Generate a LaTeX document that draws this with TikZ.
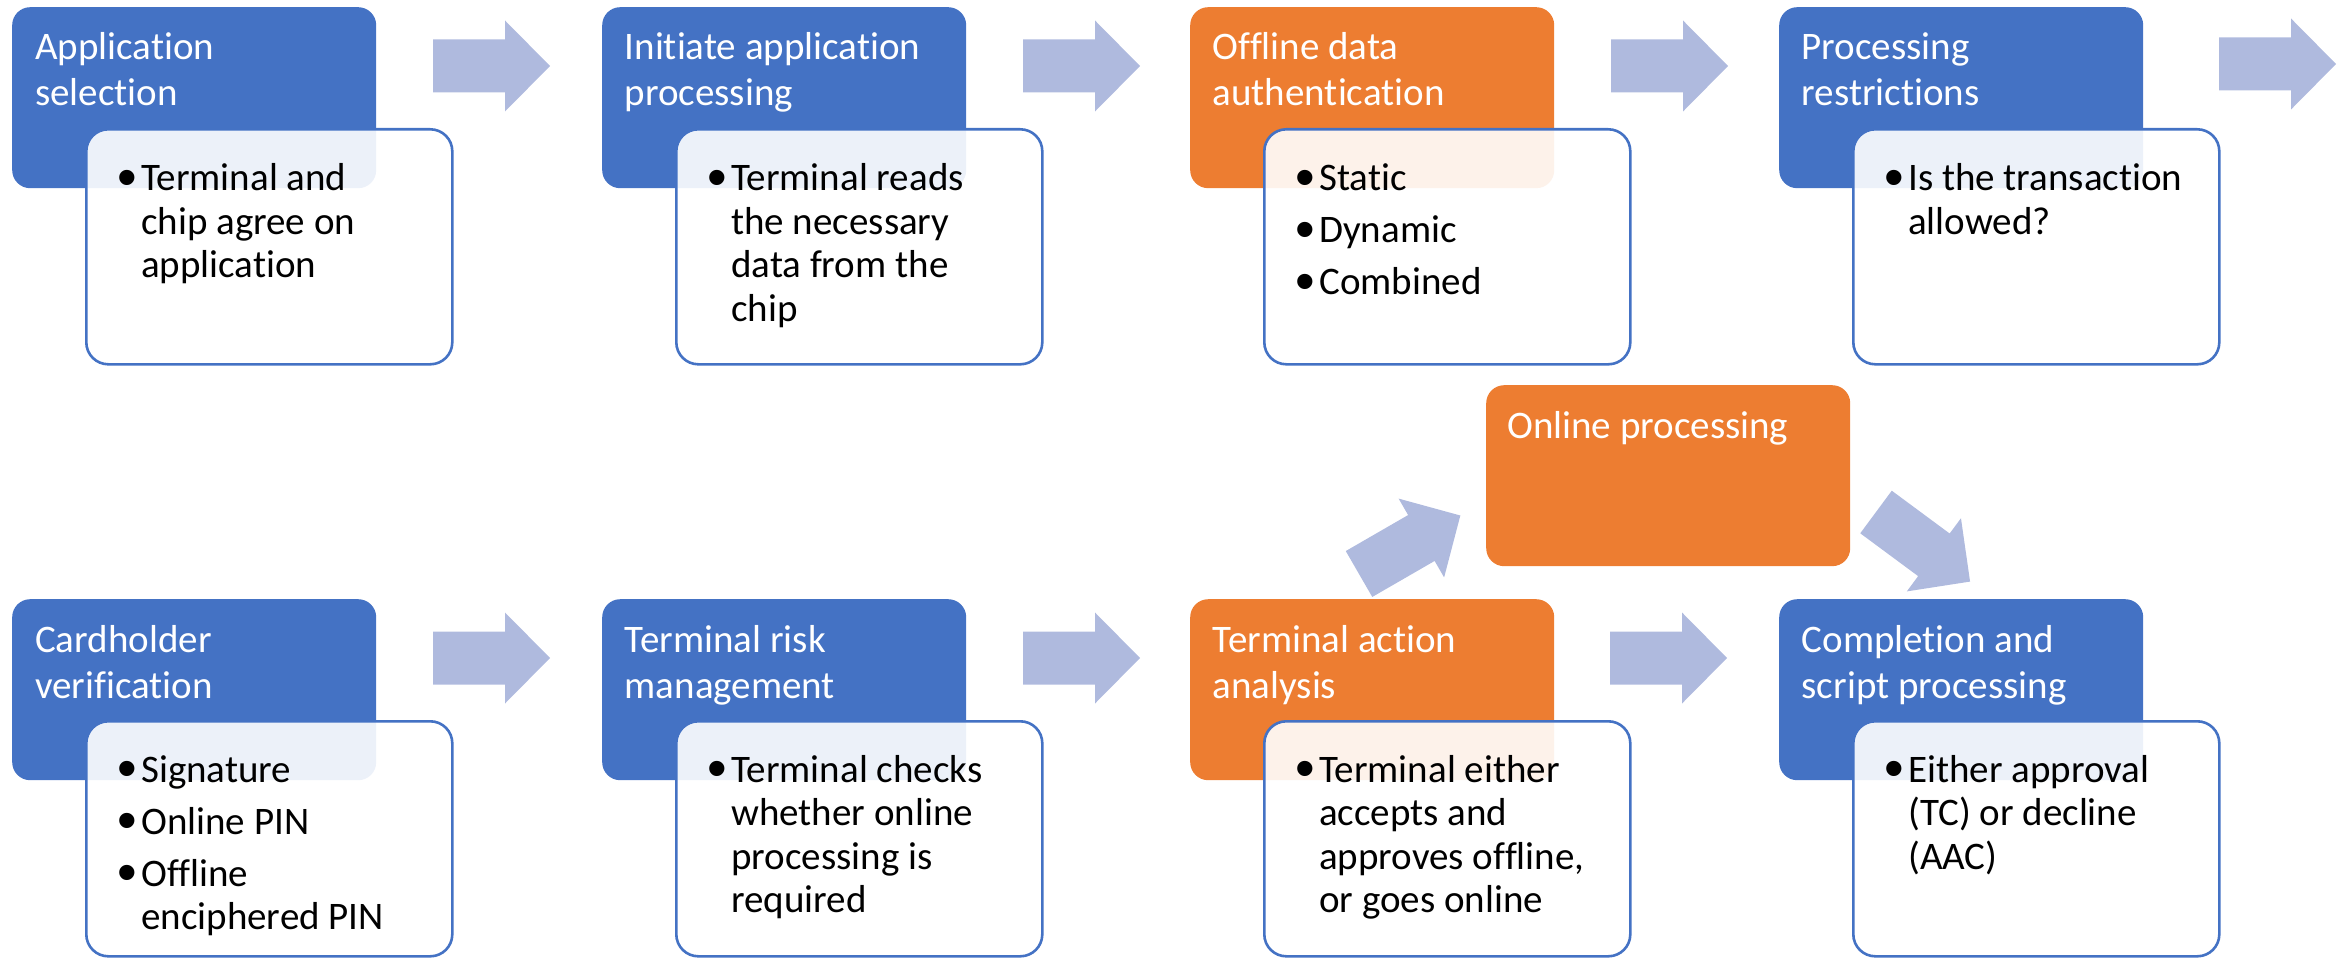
\documentclass[tikz,border=0pt]{standalone}
\usepackage{fontspec}
\setmainfont[Ligatures=NoCommon]{Carlito}
\newfontfamily\bulletfont{Liberation Sans}
\usetikzlibrary{calc}

\definecolor{accblue}{HTML}{4472C4}
\definecolor{accorange}{HTML}{ED7D31}
\definecolor{arrowfill}{RGB}{175,186,222}

% bullet item with hanging indent, and its continuation lines
\newcommand{\bulletmark}{\hspace*{-1.5pt}\raisebox{-5.8pt}{\fontsize{56}{56}\bulletfont •}}
\newcommand{\bitem}[1]{\makebox[22pt][l]{\bulletmark}#1}
\newcommand{\cont}[1]{\hspace*{22pt}#1}
% stacked lines whose reference point is the first baseline
\newcommand{\stack}[1]{\begin{tabular}[t]{@{}l@{}}#1\end{tabular}}

\tikzset{
  hdr/.style={rectangle, rounded corners=18pt, inner sep=0pt,
    minimum width=364pt, minimum height=181pt, anchor=north west},
  bluehdr/.style={hdr, fill=accblue},
  orangehdr/.style={hdr, fill=accorange},
  detail/.style={rectangle, rounded corners=22pt, inner sep=0pt,
    minimum width=366pt, minimum height=235pt, anchor=north west,
    draw=accblue, line width=2.6pt, fill=white, fill opacity=0.9},
  htext/.style={anchor=base west, inner sep=0pt, text=white,
    font={\fontsize{39}{46}\selectfont}},
  dtext/.style={anchor=base west, inner sep=0pt, text=black,
    font={\fontsize{39}{43.5}\selectfont}},
  blockarrow/.pic={
    \fill[arrowfill] (0,-26.5) -- (72,-26.5) -- (72,-45.5) -- (117,0)
      -- (72,45.5) -- (72,26.5) -- (0,26.5) -- cycle;
  }
}

\begin{document}
\begin{tikzpicture}[x=1pt, y=-1pt]
\useasboundingbox (0,0) rectangle (2341,973);

% ---- step headers ----
\node[bluehdr]   (h1) at (12,7)    {};
\node[bluehdr]   (h2) at (602,7)   {};
\node[orangehdr] (h3) at (1190,7)  {};
\node[bluehdr]   (h4) at (1779,7)  {};
\node[bluehdr]   (h5) at (12,599)  {};
\node[bluehdr]   (h6) at (602,599) {};
\node[orangehdr] (h7) at (1190,599) {};
\node[bluehdr]   (h8) at (1779,599) {};
\node[orangehdr] (on) at (1486,385) {};

% ---- detail boxes ----
\node[detail] (d1) at (85,128)   {};
\node[detail] (d2) at (675,128)  {};
\node[detail] (d3) at (1263,128) {};
\node[detail] (d4) at (1852,128) {};
\node[detail] (d5) at (85,720)   {};
\node[detail] (d6) at (675,720)  {};
\node[detail] (d7) at (1263,720) {};
\node[detail] (d8) at (1852,720) {};

% ---- flow arrows ----
\coordinate (a12) at (433,66);
\coordinate (a23) at (1023,66);
\coordinate (a34) at (1611,66);
\coordinate (a45) at (2219,64);
\coordinate (a56) at (433,658);
\coordinate (a67) at (1023,658);
\coordinate (a78) at (1610,658);
\coordinate (a7on) at (1359,574);
\coordinate (aon8) at (1876,512);
\pic at (a12) {blockarrow};
\pic at (a23) {blockarrow};
\pic at (a34) {blockarrow};
\pic at (a45) {blockarrow};
\pic at (a56) {blockarrow};
\pic at (a67) {blockarrow};
\pic at (a78) {blockarrow};
\pic[rotate=30] at (a7on) {blockarrow};
\pic[rotate=-36.5] at (aon8) {blockarrow};

% ---- header titles ----
\node[htext] (t1) at ($(h1.north west)+(23,53)$) {\stack{Application\\selection}};
\node[htext] (t2) at ($(h2.north west)+(22.5,53)$) {\stack{Initiate application\\processing}};
\node[htext] (t3) at ($(h3.north west)+(22.5,53)$) {\stack{Offline data\\authentication}};
\node[htext] (t4) at ($(h4.north west)+(22.5,53)$) {\stack{Processing\\restrictions}};
\node[htext] (t5) at ($(h5.north west)+(23,53)$) {\stack{Cardholder\\verification}};
\node[htext] (t6) at ($(h6.north west)+(22.5,53)$) {\stack{Terminal risk\\management}};
\node[htext] (t7) at ($(h7.north west)+(22.5,53)$) {\stack{Terminal action\\analysis}};
\node[htext] (t8) at ($(h8.north west)+(22.5,53)$) {\stack{Completion and\\script processing}};
\node[htext] (ton) at ($(on.north west)+(21,53)$) {Online processing};

% ---- detail texts ----
\node[dtext] (x1) at ($(d1.north west)+(34,63)$)
  {\stack{\bitem{Terminal and}\\\cont{chip agree on}\\\cont{application}}};
\node[dtext] (x2) at ($(d2.north west)+(34,63)$)
  {\stack{\bitem{Terminal reads}\\\cont{the necessary}\\\cont{data from the}\\\cont{chip}}};
\node[dtext] (x3) at ($(d3.north west)+(34,63)$)
  {\stack{\bitem{Static}\\[8.5pt]\bitem{Dynamic}\\[8.5pt]\bitem{Combined}}};
\node[dtext] (x4) at ($(d4.north west)+(34,63)$)
  {\stack{\bitem{Is the transaction}\\\cont{allowed?}}};
\node[dtext] (x5) at ($(d5.north west)+(34,62)$)
  {\stack{\bitem{Signature}\\[8.5pt]\bitem{Online PIN}\\[8.5pt]\bitem{Offline}\\\cont{enciphered PIN}}};
\node[dtext] (x6) at ($(d6.north west)+(34,62)$)
  {\stack{\bitem{Terminal checks}\\\cont{whether online}\\\cont{processing is}\\\cont{required}}};
\node[dtext] (x7) at ($(d7.north west)+(34,62)$)
  {\stack{\bitem{Terminal either}\\\cont{accepts and}\\\cont{approves offline,}\\\cont{or goes online}}};
\node[dtext] (x8) at ($(d8.north west)+(34,62)$)
  {\stack{\bitem{Either approval}\\\cont{(TC) or decline}\\\cont{(AAC)}}};
\end{tikzpicture}
\end{document}
